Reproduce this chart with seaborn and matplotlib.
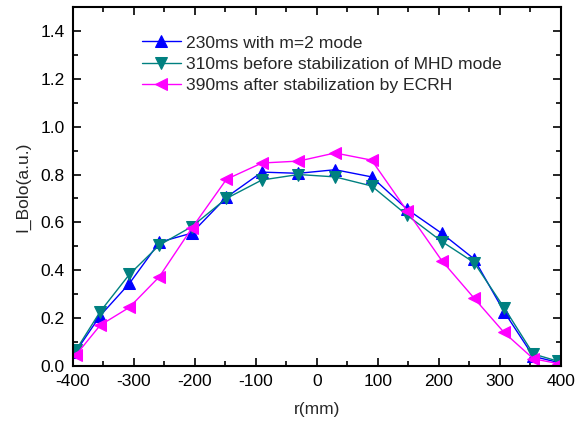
import matplotlib
matplotlib.use("Agg")
import matplotlib.pyplot as plt
import seaborn as sns
import pandas as pd
from matplotlib.ticker import MultipleLocator

r_mm = [-395, -355, -307, -258, -205, -148, -90, -30, 30, 90, 148, 205, 258, 307, 355, 395]
s230 = [0.06, 0.21, 0.345, 0.517, 0.555, 0.705, 0.81, 0.805, 0.82, 0.79, 0.655, 0.554, 0.447, 0.227, 0.04, 0.015]
s310 = [0.065, 0.227, 0.383, 0.505, 0.582, 0.70, 0.777, 0.80, 0.79, 0.752, 0.63, 0.52, 0.432, 0.244, 0.05, 0.02]
s390 = [0.045, 0.17, 0.245, 0.373, 0.575, 0.78, 0.848, 0.856, 0.89, 0.86, 0.648, 0.44, 0.283, 0.14, 0.03, 0.01]
labels = ["230ms with m=2 mode", "310ms before stabilization of MHD mode", "390ms after stabilization by ECRH"]
colors = ["#0000FF", "#008080", "#FF00FF"]
markers = ["^", "v", "<"]
xticks = [-400, -300, -200, -100, 0, 100, 200, 300, 400]
yticks = [0.0, 0.2, 0.4, 0.6, 0.8, 1.0, 1.2, 1.4]

sns.set_theme(style="ticks")
plt.rcParams['font.family'] = ['Liberation Sans', 'DejaVu Sans']

fig = plt.figure(figsize=(5.82, 4.25), dpi=100)
ax = fig.add_axes([0.125, 0.139, 0.8385, 0.8445])

for lab, vals, c, m in zip(labels, [s230, s310, s390], colors, markers):
    df = pd.DataFrame({"r": r_mm, "v": vals})
    sns.lineplot(data=df, x="r", y="v", ax=ax, color=c, marker=m, markersize=8,
                 markeredgecolor=c, markerfacecolor=c, linewidth=1.0, label=lab)

ax.set_xlim(-400, 400)
ax.set_ylim(0, 1.5)
ax.xaxis.set_minor_locator(MultipleLocator(50))
ax.yaxis.set_minor_locator(MultipleLocator(0.1))
ax.set_yticks(yticks)
ax.set_yticklabels([f"{v:.1f}" for v in yticks])
ax.set_xticks(xticks)
ax.set_xticklabels([str(v) for v in xticks])
ax.tick_params(which="both", direction="in", top=True, right=True, colors="black", labelsize=12.5, width=1.2)
ax.tick_params(which="major", length=6, pad=6)
ax.tick_params(which="minor", length=3.5)
for sp in ax.spines.values():
    sp.set_linewidth(1.5)
    sp.set_color("black")
ax.set_xlabel("r(mm)", fontsize=12.5, labelpad=9)
ax.set_ylabel("I_Bolo(a.u.)", fontsize=12.5, labelpad=7)

leg = ax.legend(loc="upper left", bbox_to_anchor=(0.141, 0.921), frameon=False, fontsize=12.6,
                handlelength=2.25, handletextpad=0.3, labelspacing=0.35, borderaxespad=0,
                borderpad=0)

fig.savefig("out.png", dpi=100)
